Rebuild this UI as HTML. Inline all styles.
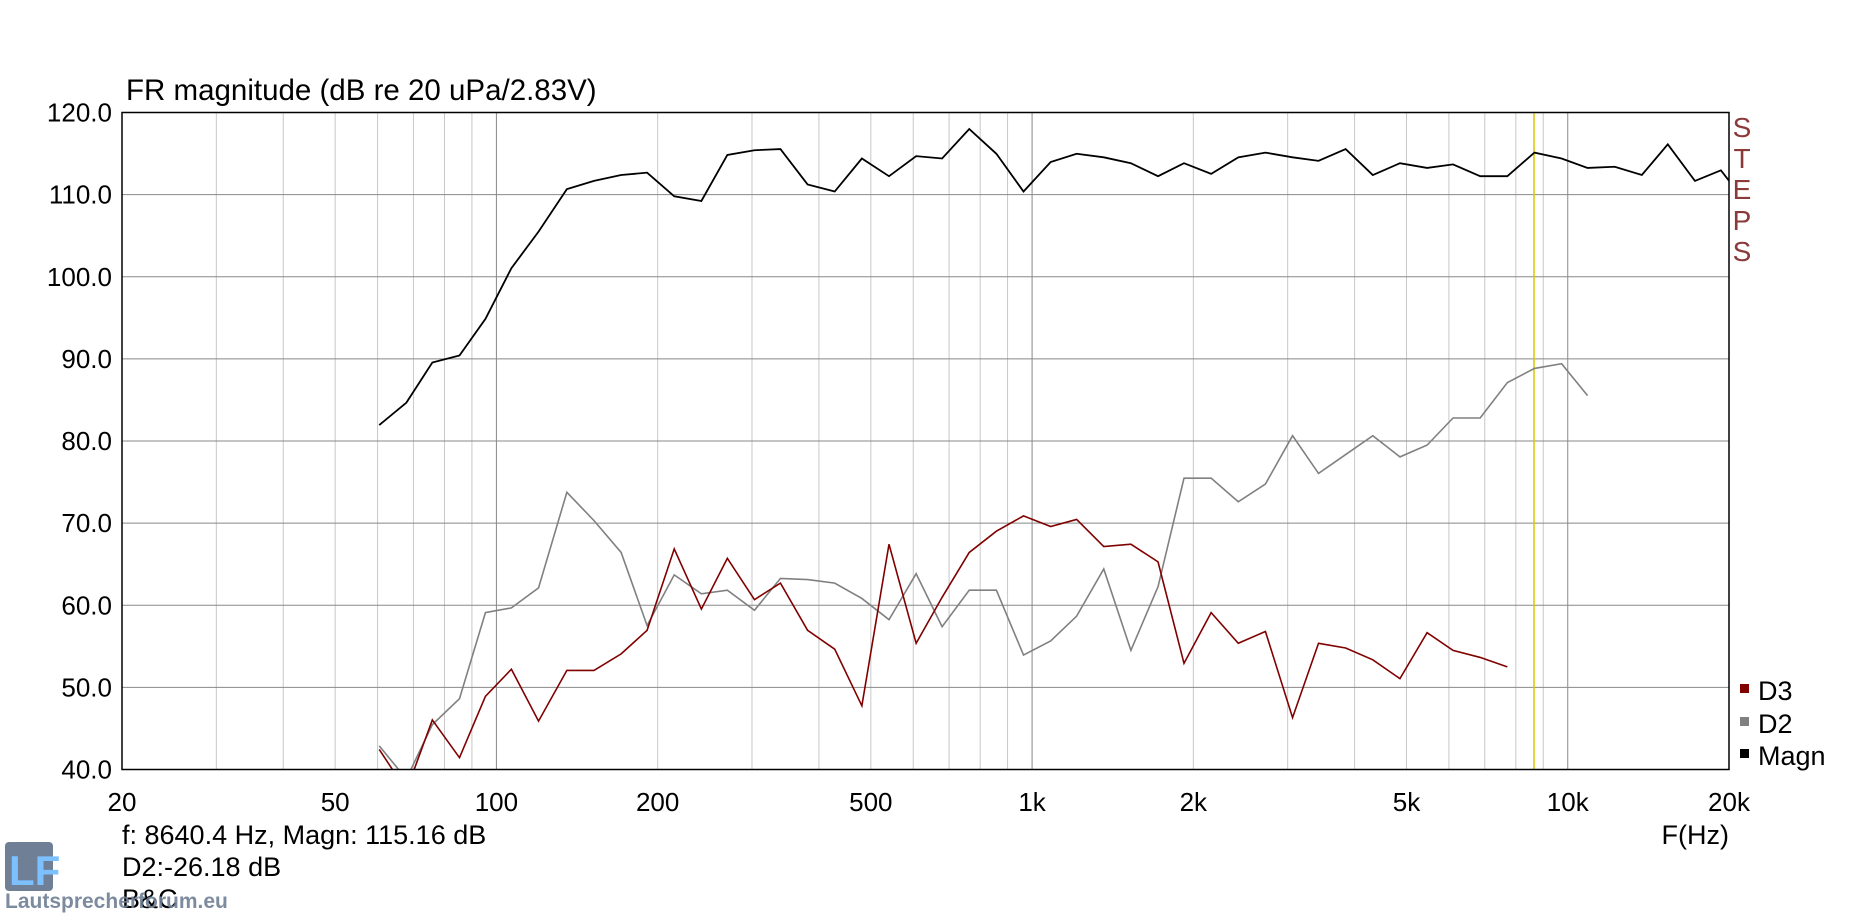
<!DOCTYPE html>
<html><head><meta charset="utf-8"><style>
html,body{margin:0;padding:0;background:#fff;}
svg{display:block;font-family:"Liberation Sans",Arial,sans-serif;}
</style></head><body>
<svg id="s" width="1851" height="917" xmlns="http://www.w3.org/2000/svg">
<defs><clipPath id="cp"><rect x="122" y="112.5" width="1607" height="657"/></clipPath></defs>
<rect width="1851" height="917" fill="#fff"/>
<g id="grid"></g>
<line x1="1534" y1="112.5" x2="1534" y2="769.5" stroke="#d8c800" stroke-width="1.5"/>
<g clip-path="url(#cp)">
<g transform="translate(122,112.5) scale(1.18,1.1795) translate(-103,-95)">
<polyline id="d2" fill="none" stroke="#808080" stroke-width="1.6" vector-effect="non-scaling-stroke" points="321,632 344,660 366,614 389,592 411,519 433,515 456,498 480,417 503,441 526,468 548,530 571,487 594,503 616,500 639,517 661,490 684,491 707,494 730,507 753,525 776,486 798,531 821,500 844,500 867,555 890,543 912,522 935,482 958,551 981,497 1003,405 1026,405 1049,425 1072,410 1095,369 1117,401 1140,385 1163,369 1186,387 1209,377 1231,354 1254,354 1277,324 1300,312 1323,308 1345,335"/>
<polyline fill="none" stroke="#800000" stroke-width="1.6" vector-effect="non-scaling-stroke" points="321,635 344,670 366,610 389,642 411,590 433,567 456,611 480,568 503,568 526,554 548,534 571,465 594,516 616,473 639,508 661,494 684,534 707,550 730,598 753,461 776,545 798,506 821,468 844,450 867,437 890,446 912,440 935,463 958,461 981,476 1003,562 1026,519 1049,545 1072,535 1095,608 1117,545 1140,549 1163,559 1186,575 1209,536 1231,551 1254,557 1277,565"/>
<polyline fill="none" stroke="#000" stroke-width="1.8" vector-effect="non-scaling-stroke" points="321,360 344,341 366,307 389,301 411,270 433,227 456,196 480,160 503,153 526,148 548,146 571,166 594,170 616,131 639,127 661,126 684,156 707,162 730,134 753,149 776,132 798,134 821,109 844,130 867,162 890,137 912,130 935,133 958,138 981,149 1003,138 1026,147 1049,133 1072,129 1095,133 1117,136 1140,126 1163,148 1186,138 1209,142 1231,139 1254,149 1277,149 1300,129 1323,134 1345,142 1368,141 1391,148 1413,122 1436,153 1458,144 1465,153"/>
</g></g>
<rect x="122" y="112.5" width="1607" height="657" fill="none" stroke="#000" stroke-width="1.5"/>
<text x="126" y="100" font-size="29.5">FR magnitude (dB re 20 uPa/2.83V)</text>
<g fill="#8b3a3a" font-size="28" text-anchor="middle">
<text x="1742" y="137">S</text><text x="1742" y="168">T</text><text x="1742" y="199">E</text><text x="1742" y="230">P</text><text x="1742" y="261">S</text>
</g>
<rect x="1740" y="684" width="9" height="9" fill="#800000"/><text x="1758" y="700" font-size="27">D3</text>
<rect x="1740" y="717" width="9" height="9" fill="#808080"/><text x="1758" y="733" font-size="27">D2</text>
<rect x="1740" y="749" width="9" height="9" fill="#000"/><text x="1758" y="765" font-size="27">Magn</text>
<text x="1729" y="844" font-size="27" text-anchor="end">F(Hz)</text>
<text x="122" y="844" font-size="27">f: 8640.4 Hz, Magn: 115.16 dB</text>
<text x="122" y="876" font-size="27">D2:-26.18 dB</text>
<rect x="5" y="842" width="48" height="49" rx="4" fill="#6f7f95"/>
<text x="9" y="885" font-size="42" font-weight="bold" fill="#7cc0ff">LF</text>
<text x="122" y="908" font-size="27">B&amp;C</text>
<text x="5" y="908" font-size="21" font-weight="bold" fill="#6f7f95" opacity="0.9">Lautsprecherforum.eu</text>
</svg>
<script>
(function(){
var g=document.getElementById('grid'),ns='http://www.w3.org/2000/svg',s=document.getElementById('s');
var L=122,R=1729,T=112.5,B=769.5;
function X(f){return L+(Math.log10(f)-Math.log10(20))*(R-L)/3;}
function el(n,a,p){var e=document.createElementNS(ns,n);for(var k in a)e.setAttribute(k,a[k]);(p||g).appendChild(e);return e;}
var decs=[10,100,1000,10000];
decs.forEach(function(d){for(var m=1;m<10;m++){var f=d*m;if(f<=20||f>=20000)continue;var maj=(m==1);
el('line',{x1:X(f),x2:X(f),y1:T,y2:B,stroke:maj?'#888':'#c8c8c8','stroke-width':1});}});
for(var v=50;v<=110;v+=10){var y=B-(v-40)*(B-T)/80;el('line',{x1:L,x2:R,y1:y,y2:y,stroke:'#888','stroke-width':1});}
for(var v=40;v<=120;v+=10){var y=B-(v-40)*(B-T)/80;var t=el('text',{x:112,y:y+9,'font-size':26,'text-anchor':'end'},s);t.textContent=v.toFixed(1);}
[[20,'20'],[50,'50'],[100,'100'],[200,'200'],[500,'500'],[1000,'1k'],[2000,'2k'],[5000,'5k'],[10000,'10k'],[20000,'20k']].forEach(function(p){
var t=el('text',{x:X(p[0]),y:811,'font-size':26,'text-anchor':'middle'},s);t.textContent=p[1];});
})();
</script>
</body></html>
